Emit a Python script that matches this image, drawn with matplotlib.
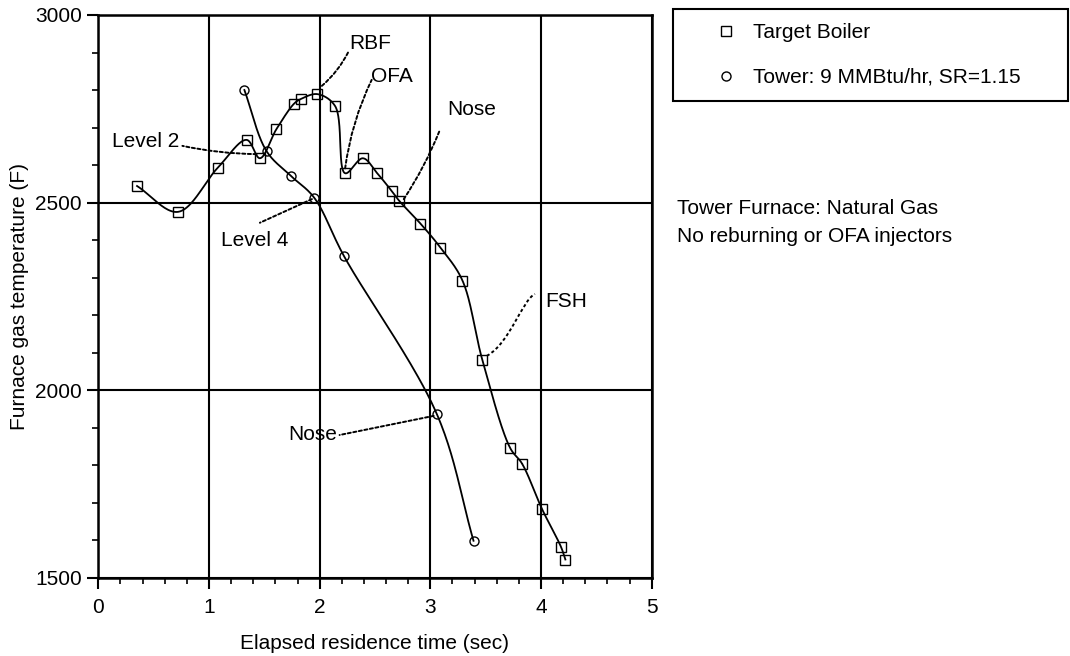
import numpy as np
import matplotlib
matplotlib.use("Agg")
import matplotlib.pyplot as plt
from matplotlib.lines import Line2D
from matplotlib.path import Path
from matplotlib.patches import PathPatch
from matplotlib.ticker import MultipleLocator

# data
boiler_t = [0.35, 0.72, 1.08, 1.34, 1.46, 1.61, 1.77, 1.83, 1.98, 2.14, 2.23, 2.39,
            2.52, 2.65, 2.72, 2.91, 3.09, 3.29, 3.47, 3.72, 3.83, 4.01, 4.18, 4.22]
boiler_T = [2544, 2475, 2593, 2667, 2618, 2696, 2764, 2776, 2789, 2757, 2578, 2618,
            2578, 2531, 2504, 2444, 2380, 2292, 2080, 1846, 1803, 1682, 1582, 1548]
tower_t = [1.32, 1.52, 1.74, 1.95, 2.22, 3.06, 3.39]
tower_T = [2800, 2637, 2571, 2513, 2357, 1935, 1598]

series_labels = ["Target Boiler", "Tower: 9 MMBtu/hr, SR=1.15"]
x_ticks = [0, 1, 2, 3, 4, 5]
y_ticks = [1500, 2000, 2500, 3000]

plt.rcParams['font.family'] = ['Liberation Sans', 'DejaVu Sans']
plt.rcParams['font.size'] = 15

W, H = 1070, 656
fig = plt.figure(figsize=(W / 100, H / 100), dpi=100)
ax = fig.add_axes([98.3 / W, 1 - 577.5 / H, 553.4 / W, 562.5 / H])
ax.set_xlim(0, 5)
ax.set_ylim(1500, 3000)


def catmull_rom(x, y, sx, sy, n=40):
    # centripetal catmull-rom, done in pixel-ish units so the bends look right
    P = np.column_stack([np.asarray(x, float) * sx, np.asarray(y, float) * sy])
    P = np.vstack([2 * P[0] - P[1], P, 2 * P[-1] - P[-2]])
    pts = []
    for i in range(1, len(P) - 2):
        p0, p1, p2, p3 = P[i - 1], P[i], P[i + 1], P[i + 2]
        t0 = 0.0
        t1 = t0 + np.linalg.norm(p1 - p0) ** 0.5
        t2 = t1 + np.linalg.norm(p2 - p1) ** 0.5
        t3 = t2 + np.linalg.norm(p3 - p2) ** 0.5
        t = np.linspace(t1, t2, n)[:, None]
        a1 = (t1 - t) / (t1 - t0) * p0 + (t - t0) / (t1 - t0) * p1
        a2 = (t2 - t) / (t2 - t1) * p1 + (t - t1) / (t2 - t1) * p2
        a3 = (t3 - t) / (t3 - t2) * p2 + (t - t2) / (t3 - t2) * p3
        b1 = (t2 - t) / (t2 - t0) * a1 + (t - t0) / (t2 - t0) * a2
        b2 = (t3 - t) / (t3 - t1) * a2 + (t - t1) / (t3 - t1) * a3
        pts.append((t2 - t) / (t2 - t1) * b1 + (t - t1) / (t2 - t1) * b2)
    pts = np.vstack(pts)
    return pts[:, 0] / sx, pts[:, 1] / sy


sx = 553.4 / 5
sy = 562.5 / 1500

bx, by = catmull_rom(boiler_t, boiler_T, sx, sy)
tx, ty = catmull_rom(tower_t, tower_T, sx, sy)
ax.plot(bx, by, color='black', lw=1.3, zorder=3)
ax.plot(tx, ty, color='black', lw=1.3, zorder=3)
ax.plot(boiler_t, boiler_T, ls='none', marker='s', ms=6.5, mfc='none', mec='black', mew=1.0, zorder=4)
ax.plot(tower_t, tower_T, ls='none', marker='o', ms=6.5, mfc='none', mec='black', mew=1.0, zorder=4)

# callouts: text, text pos, alignment, line from, line to, curvature
dot = (0, (1.6, 1.3))
notes = [
    ("RBF", (2.27, 2923), 'left', (2.02, 2811), (2.26, 2902), 0.1),
    ("OFA", (2.46, 2835), 'left', (2.23, 2591), (2.47, 2827), -0.08),
    ("Nose", (3.15, 2747), 'left', (2.76, 2509), (3.08, 2689), 0.05),
    ("Level 2", (0.73, 2662), 'right', (1.43, 2629), (0.76, 2651), -0.05),
    ("Level 4", (1.41, 2400), 'center', (1.93, 2509), (1.46, 2446), 0.0),
    ("Nose", (2.16, 1882), 'right', (3.03, 1931), (2.18, 1880), 0.0),
]
for label, pos, ha, p_from, p_to, rad in notes:
    ax.text(pos[0], pos[1], label, ha=ha, va='center', zorder=5)
    ax.annotate('', xy=p_to, xytext=p_from,
                arrowprops=dict(arrowstyle='-', color='black', lw=1.4, linestyle=dot,
                                shrinkA=0, shrinkB=0,
                                connectionstyle='arc3,rad=%s' % rad))

# FSH callout bends like an S
ax.text(4.035, 2235, "FSH", ha='left', va='center')
fsh = Path([(3.51, 2091), (3.72, 2125), (3.83, 2240), (3.945, 2256)],
           [Path.MOVETO, Path.CURVE4, Path.CURVE4, Path.CURVE4])
ax.add_patch(PathPatch(fsh, fill=False, lw=1.4, ls=dot, color='black'))

ax.set_xticks(x_ticks)
ax.set_yticks(y_ticks)
ax.xaxis.set_minor_locator(MultipleLocator(0.2))
ax.yaxis.set_minor_locator(MultipleLocator(100))
ax.tick_params(which='major', direction='out', length=8, width=1.5, pad=4)
ax.tick_params(axis='x', which='major', pad=7)
ax.tick_params(which='minor', direction='out', length=4, width=1.2)
ax.grid(True, which='major', color='black', lw=1.5)
for s in ax.spines.values():
    s.set_linewidth(1.8)

ax.set_xlabel("Elapsed residence time (sec)", labelpad=12)
ax.set_ylabel("Furnace gas temperature (F)", labelpad=4)

handles = [Line2D([], [], ls='none', marker='s', ms=6.5, mfc='none', mec='black', mew=1.0),
           Line2D([], [], ls='none', marker='o', ms=6.5, mfc='none', mec='black', mew=1.0)]
leg = fig.legend(handles, series_labels, loc='upper left',
                 bbox_to_anchor=(672.7 / W, 1 - 9.3 / H, 395 / W, 0), mode='expand',
                 borderaxespad=0, fancybox=False, edgecolor='black', framealpha=1,
                 borderpad=0.67, labelspacing=1.23, handlelength=3.78, handletextpad=-0.58)
leg.get_frame().set_linewidth(1.5)

fig.text(677 / W, 1 - 208 / H, "Tower Furnace: Natural Gas", va='center')
fig.text(677 / W, 1 - 236 / H, "No reburning or OFA injectors", va='center')

fig.savefig("out.png", dpi=100)
